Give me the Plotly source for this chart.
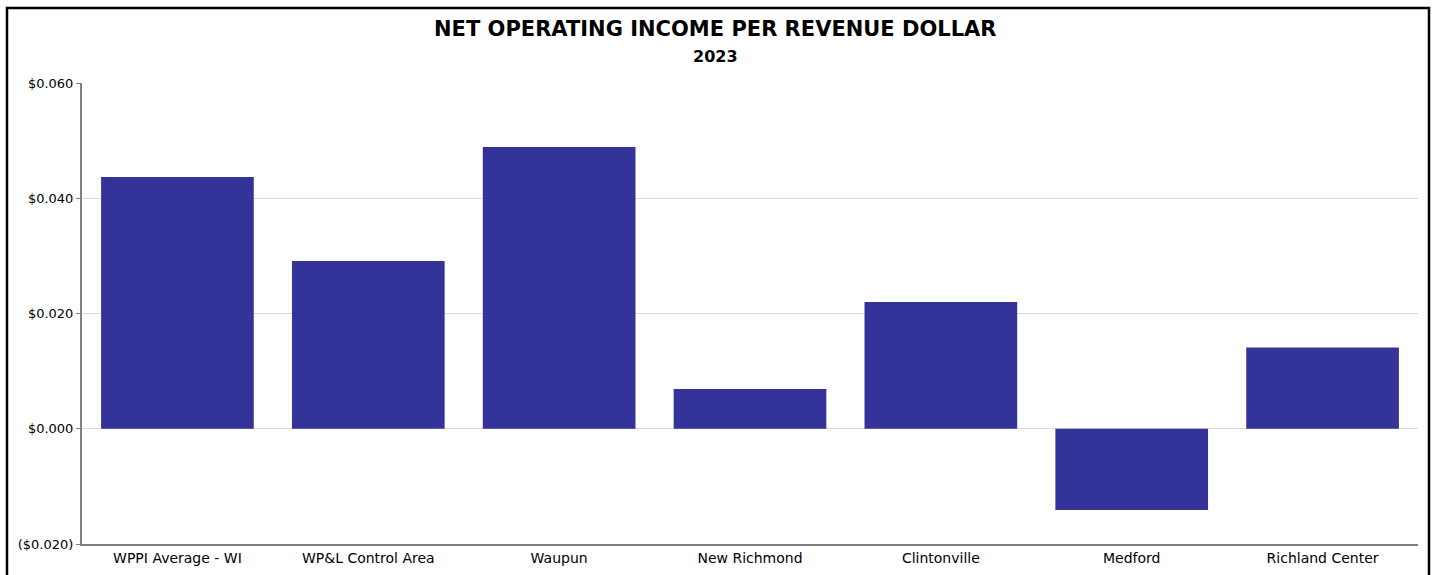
import plotly.graph_objects as go

# Net operating income per revenue dollar, 2023
categories = ["WPPI Average - WI", "WP&L Control Area", "Waupun", "New Richmond",
              "Clintonville", "Medford", "Richland Center"]
values = [0.0437, 0.0291, 0.0489, 0.0069, 0.0220, -0.0141, 0.0141]

tick_values = [-0.02, 0.0, 0.02, 0.04, 0.06]
tick_labels = ["($0.020)", "$0.000", "$0.020", "$0.040", "$0.060"]

FONT = "DejaVu Sans"

fig = go.Figure(go.Bar(
    x=categories,
    y=values,
    marker=dict(color="#333399", line=dict(width=0)),
    width=0.8,
    hovertemplate="%{x}: %{y:$.3f}<extra></extra>",
))

W, H = 1435, 575
L, R, T, B = 82, 17, 83, 31
pw, ph = W - L - R, H - T - B

def px_x(x):
    return (x - L) / pw

def px_y(y):
    return (H - B - y) / ph

fig.update_layout(
    width=W, height=H,
    margin=dict(l=L, r=R, t=T, b=B),
    paper_bgcolor="white",
    plot_bgcolor="white",
    showlegend=False,
    font=dict(family=FONT, size=13, color="#000000"),
    annotations=[
        dict(text="<b>NET OPERATING INCOME PER REVENUE DOLLAR</b>", xref="paper", yref="paper",
             x=px_x(715), y=px_y(29), xanchor="center", yanchor="middle", showarrow=False,
             font=dict(family=FONT, size=21, color="#000000")),
        dict(text="<b>2023</b>", xref="paper", yref="paper",
             x=px_x(715), y=px_y(57), xanchor="center", yanchor="middle", showarrow=False,
             font=dict(family=FONT, size=16, color="#000000")),
    ],
    shapes=[
        dict(type="rect", xref="paper", yref="paper",
             x0=px_x(7), x1=px_x(1429), y0=px_y(590), y1=px_y(8),
             line=dict(color="#000000", width=2.5), fillcolor="rgba(0,0,0,0)", layer="above"),
    ],
)

fig.update_xaxes(
    automargin=False,
    showgrid=False,
    showline=True, linecolor="#808080", linewidth=2,
    ticks="", tickfont=dict(family=FONT, size=14, color="#000000"),
    ticklabelstandoff=0,
    range=[-0.5, len(categories) - 0.5],
)
fig.update_yaxes(
    automargin=False,
    range=[-0.02, 0.06],
    tickvals=tick_values, ticktext=tick_labels,
    showgrid=True, gridcolor="#d9d9d9", gridwidth=1,
    zeroline=False,
    showline=True, linecolor="#808080", linewidth=2,
    ticks="outside", ticklen=4, tickcolor="#808080",
    ticklabelstandoff=0,
    tickfont=dict(family=FONT, size=13, color="#000000"),
)

fig.write_html("out.html")
